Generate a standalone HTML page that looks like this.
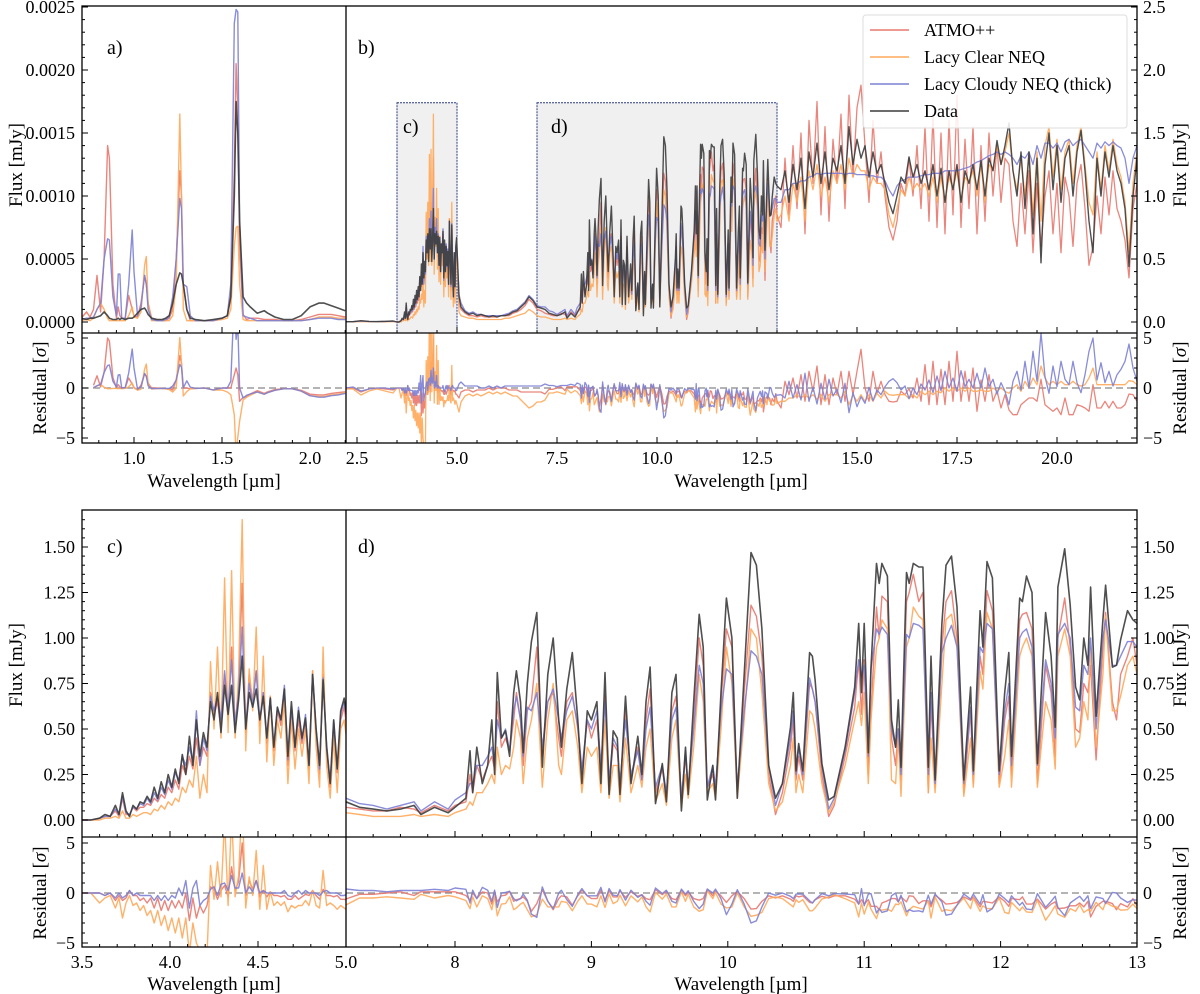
<!DOCTYPE html>
<html><head><meta charset="utf-8"><style>
body{margin:0;background:#fff;}
svg{display:block;font-family:"Liberation Serif",serif;}
</style></head><body>
<svg id="fig" width="1200" height="994" viewBox="0 0 1200 994" xmlns="http://www.w3.org/2000/svg">
<defs>
<clipPath id="cA"><rect x="82" y="6" width="264" height="327"/></clipPath>
<clipPath id="cAr"><rect x="82" y="333" width="264" height="110"/></clipPath>
<clipPath id="cB"><rect x="346" y="6" width="791" height="327"/></clipPath>
<clipPath id="cBr"><rect x="346" y="333" width="791" height="110"/></clipPath>
<clipPath id="cC"><rect x="82" y="510" width="264" height="327"/></clipPath>
<clipPath id="cCr"><rect x="82" y="837" width="264" height="110"/></clipPath>
<clipPath id="cD"><rect x="346" y="510" width="791" height="327"/></clipPath>
<clipPath id="cDr"><rect x="346" y="837" width="791" height="110"/></clipPath>
</defs>
<g id="boxes"></g>
<g id="series"></g>
<g id="axes"></g>
</svg>
<script>
// ---- NIR data (flux in units of 1e-4 mJy) ----
const nirWl=[0.68,0.70,0.73,0.75,0.77,0.79,0.81,0.83,0.85,0.86,0.88,0.90,0.91,0.92,0.93,0.95,0.97,0.99,1.00,1.02,1.04,1.06,1.07,1.08,1.10,1.13,1.16,1.18,1.20,1.22,1.24,1.26,1.27,1.28,1.30,1.32,1.35,1.40,1.45,1.50,1.53,1.55,1.57,1.58,1.59,1.60,1.62,1.64,1.66,1.70,1.74,1.76,1.80,1.85,1.90,1.95,2.00,2.05,2.08,2.12,2.16,2.20];
const nirAtmo=[0.2,0.3,0.8,0.4,1.0,3.7,0.8,5.0,14.0,13.0,3.0,0.3,1.2,0.5,0.3,0.3,2.1,1.0,0.5,0.4,1.5,3.7,3.0,1.5,0.3,0.2,0.1,0.1,0.3,1.0,5.0,12.0,10.0,3.0,1.0,0.1,0.1,0.1,0.1,0.3,0.5,2.0,12.0,20.5,17.0,6.0,0.6,0.2,0.3,0.3,0.2,0.2,0.2,0.1,0.1,0.2,0.4,0.6,0.6,0.6,0.5,0.4];
const nirCloudy=[0.1,0.2,0.3,0.3,0.4,1.0,1.5,5.0,6.6,6.5,2.0,0.5,3.8,3.8,0.3,0.3,3.0,7.3,4.0,0.5,1.2,3.7,3.0,1.0,0.2,0.1,0.1,0.2,0.4,2.0,5.0,9.8,9.0,3.0,2.8,0.5,0.1,0.1,0.1,0.3,0.5,3.0,23.7,24.8,24.6,8.0,0.5,0.4,0.3,0.1,0.1,0.1,0.1,0.1,0.1,0.1,0.2,0.3,0.3,0.3,0.2,0.2];
const nirClear=[0.1,0.1,0.2,0.1,0.3,1.0,1.5,1.0,0.3,0.1,0.1,0.1,0.1,0.1,0.1,0.1,0.5,1.2,0.4,0.3,0.8,4.5,5.2,1.5,0.1,0.1,0.1,0.1,0.1,0.5,3.0,16.5,10.0,1.0,0.1,0.1,0.1,0.1,0.1,0.2,0.3,1.0,6.0,7.5,7.6,3.0,0.2,0.1,0.1,0.1,0.1,0.1,0.1,0.1,0.1,0.1,0.2,0.4,0.4,0.4,0.3,0.3];
const nirData=[0.3,0.3,0.2,0.3,0.3,0.4,0.5,0.8,0.5,0.3,0.2,0.2,0.3,0.2,0.3,0.2,0.3,0.3,0.4,0.7,1.0,1.1,0.9,0.6,0.3,0.2,0.2,0.3,0.5,1.5,3.0,3.9,3.8,3.0,1.0,0.3,0.2,0.1,0.2,0.3,0.5,2.0,10.0,17.5,15.0,8.0,2.0,1.5,1.2,0.7,0.9,0.7,0.4,0.2,0.2,0.5,1.2,1.5,1.5,1.3,1.1,0.9];
const nirErrEdges=[0.95,1.15,1.40,1.53,1.70,2.25];
const nirErrVals=[2.7,1.8,2.5,0.5,1.5,1.3];

// ---- MIR data (mJy) ----
const wlA=[2.2,2.4,2.6,2.8,3.0,3.2,3.4];
const dataA=[.002,.002,.01,.005,.003,.005,.008];
const atmoA=[.002,.002,.006,.004,.003,.004,.006];
const cloudyA=[.002,.003,.007,.004,.003,.005,.007];
const clearA=[.001,.001,.003,.002,.002,.002,.003];

const wlC=[3.50,3.55,3.60,3.63,3.66,3.69,3.71,3.73,3.75,3.77,3.79,3.81,3.83,3.85,3.87,3.89,3.91,3.93,3.95,3.97,3.99,4.01,4.03,4.05,4.07,4.09,4.11,4.13,4.15,4.17,4.19,4.21,4.23,4.25,4.27,4.29,4.31,4.33,4.35,4.37,4.39,4.41,4.43,4.45,4.47,4.49,4.51,4.53,4.55,4.57,4.59,4.61,4.63,4.65,4.67,4.69,4.71,4.73,4.75,4.77,4.79,4.81,4.83,4.85,4.87,4.89,4.91,4.93,4.95,4.97,4.99];
const dataC=[0,0,.01,.03,.02,.08,.03,.15,.05,.02,.08,.06,.10,.09,.13,.10,.18,.12,.21,.15,.25,.18,.28,.20,.36,.25,.46,.30,.55,.35,.48,.40,.65,.55,.70,.48,.74,.58,.74,.48,.66,.90,.50,.70,.62,.72,.55,.68,.45,.67,.40,.62,.55,.72,.35,.65,.40,.60,.45,.56,.30,.80,.50,.30,.77,.40,.20,.55,.28,.60,.67];
const atmoC=[0,0,.01,.02,.02,.05,.02,.12,.03,.03,.07,.05,.07,.07,.09,.08,.12,.10,.14,.12,.18,.15,.22,.17,.30,.25,.35,.28,.45,.30,.40,.35,.70,.58,.65,.50,.80,.55,.95,.50,.75,1.30,.48,.80,.65,.82,.52,.70,.42,.68,.38,.60,.52,.70,.30,.60,.38,.55,.42,.55,.28,.82,.48,.25,.80,.38,.18,.52,.26,.55,.62];
const cloudyC=[0,0,.01,.02,.02,.06,.03,.13,.04,.03,.07,.06,.09,.08,.12,.09,.15,.11,.18,.14,.22,.17,.26,.22,.35,.30,.40,.32,.60,.30,.45,.38,.68,.60,.68,.55,.82,.60,.88,.52,.70,1.06,.50,.75,.63,.82,.55,.70,.45,.67,.40,.62,.55,.74,.33,.62,.40,.62,.44,.58,.30,.80,.50,.28,.78,.42,.20,.55,.28,.58,.65];
const clearC=[0,0,0,.01,.01,.02,.01,.05,.01,.01,.03,.02,.03,.04,.04,.03,.06,.05,.08,.06,.10,.08,.12,.10,.18,.15,.22,.18,.35,.12,.25,.15,.87,.50,.95,.45,1.33,.48,1.37,.45,.80,1.65,.38,.83,.60,1.06,.42,.90,.32,.68,.30,.55,.45,.65,.20,.55,.28,.50,.35,.50,.20,.82,.40,.18,.95,.30,.12,.45,.15,.50,.55];

const wlB=[5.05,5.10,5.20,5.30,5.40,5.50,5.60,5.70,5.80,5.90,6.00,6.10,6.20,6.30,6.40,6.50,6.60,6.70,6.80,6.90,7.00,7.10];
const dataB=[.20,.12,.08,.06,.07,.05,.06,.05,.04,.05,.04,.05,.05,.06,.08,.09,.12,.15,.20,.17,.12,.11];
const atmoB=[.15,.10,.07,.05,.05,.04,.05,.04,.04,.04,.04,.05,.05,.05,.07,.08,.10,.13,.18,.15,.10,.09];
const cloudyB=[.22,.15,.09,.07,.08,.06,.06,.05,.05,.05,.05,.05,.06,.07,.09,.10,.13,.16,.21,.18,.13,.12];
const clearB=[.08,.05,.04,.03,.03,.02,.02,.02,.02,.02,.02,.02,.03,.03,.04,.05,.06,.07,.10,.08,.05,.04];

const wlD=[7.20,7.30,7.40,7.50,7.60,7.70,7.75,7.85,7.95,8.00,8.08,8.11,8.13,8.16,8.20,8.24,8.27,8.29,8.31,8.34,8.37,8.40,8.43,8.45,8.48,8.50,8.53,8.56,8.60,8.64,8.68,8.72,8.76,8.78,8.82,8.86,8.90,8.93,8.97,9.00,9.04,9.07,9.10,9.13,9.16,9.19,9.21,9.25,9.29,9.34,9.37,9.40,9.43,9.47,9.52,9.55,9.59,9.62,9.66,9.69,9.71,9.75,9.79,9.82,9.85,9.89,9.91,9.95,9.99,10.03,10.07,10.12,10.17,10.21,10.25,10.30,10.35,10.40,10.46,10.48,10.50,10.52,10.55,10.60,10.62,10.64,10.69,10.74,10.78,10.86,10.93,10.96,10.98,11.00,11.03,11.05,11.09,11.11,11.13,11.17,11.20,11.23,11.25,11.27,11.31,11.33,11.36,11.40,11.43,11.47,11.49,11.52,11.57,11.60,11.64,11.68,11.73,11.78,11.80,11.85,11.87,11.90,11.94,11.99,12.03,12.06,12.08,12.14,12.16,12.19,12.23,12.27,12.33,12.37,12.40,12.42,12.47,12.51,12.55,12.58,12.61,12.64,12.66,12.70,12.75,12.77,12.82,12.85,12.88,12.93,12.97,13.00];
const dataD=[.10,.07,.06,.05,.06,.08,.03,.07,.04,.07,.12,.38,.15,.40,.20,.30,.55,.25,.81,.45,.49,.35,.70,.82,.65,.37,.75,.98,1.14,.29,.80,1.00,.55,.40,.72,.92,.55,.20,.60,.55,.65,.20,.81,.14,.49,.45,.14,.68,.20,.46,.25,.65,.84,.09,.31,.10,.70,.80,.05,.40,.14,.65,1.13,.95,.11,.30,.11,.70,1.22,1.00,.12,.80,1.47,1.40,1.05,.30,.12,.20,.51,.70,.27,.42,.27,.92,.90,.77,.31,.11,.13,.40,.73,1.08,.70,1.08,.37,.84,1.41,1.30,1.41,1.34,.55,.40,.66,.29,1.36,1.30,1.41,1.39,1.39,.29,.90,.22,1.08,1.40,1.45,1.17,.22,.73,.27,1.15,.95,1.42,1.33,.27,.70,.92,.35,1.22,1.20,1.34,1.25,.31,1.14,.90,.51,1.28,1.49,1.18,.73,.66,1.00,.85,1.28,.57,1.10,1.29,.84,.85,.99,1.15,1.10,1.08];
const atmoD=[.07,.06,.05,.05,.07,.06,.04,.08,.05,.08,.10,.25,.15,.30,.22,.30,.35,.28,.65,.40,.45,.38,.55,.70,.55,.30,.60,.65,.95,.35,.65,.70,.45,.35,.65,.70,.50,.25,.55,.45,.55,.25,.68,.18,.42,.38,.18,.60,.22,.40,.22,.55,.72,.15,.28,.13,.60,.68,.10,.35,.16,.55,1.00,.85,.18,.25,.15,.65,1.05,.95,.15,.70,1.18,1.12,.90,.25,.03,.15,.40,.55,.22,.35,.22,.75,.72,.65,.25,.02,.08,.35,.62,.88,.58,.88,.25,.60,1.17,1.00,1.23,1.20,.45,.30,.50,.22,1.20,1.25,1.35,1.20,1.25,.15,.65,.18,.95,1.20,1.26,1.00,.15,.60,.20,.90,.80,1.26,1.15,.20,.55,.68,.25,1.10,1.13,1.14,1.05,.20,.85,.70,.35,1.00,1.22,.95,.50,.48,.75,.70,.85,.33,.95,1.14,.65,.55,.80,.90,1.00,.85];
const cloudyD=[.12,.09,.08,.06,.08,.10,.05,.10,.06,.11,.15,.20,.20,.30,.30,.35,.40,.30,.55,.45,.50,.38,.60,.68,.55,.35,.62,.60,.70,.40,.65,.72,.55,.45,.60,.68,.52,.28,.55,.50,.60,.30,.65,.22,.45,.40,.20,.55,.25,.38,.22,.50,.62,.18,.30,.15,.55,.62,.12,.38,.18,.50,.85,.75,.18,.30,.18,.60,.83,.80,.18,.60,.93,.90,.80,.30,.08,.20,.45,.60,.25,.40,.25,.78,.72,.65,.30,.06,.12,.38,.70,.88,.78,.85,.35,.83,1.05,1.02,1.06,1.02,.50,.40,.50,.25,1.02,1.00,1.08,1.07,1.05,.25,.70,.20,.92,1.00,1.07,.95,.20,.62,.25,.95,.92,1.08,1.05,.25,.60,.75,.30,1.00,1.03,1.05,.95,.30,.88,.75,.45,1.02,1.08,1.00,.62,.60,.85,.80,1.00,.50,1.00,1.10,.85,.85,.90,.98,.98,.95];
const clearD=[.04,.03,.02,.02,.02,.03,.02,.03,.02,.04,.06,.10,.08,.15,.15,.20,.25,.20,.40,.25,.30,.28,.40,.55,.45,.20,.45,.55,.75,.18,.55,.75,.30,.25,.55,.60,.40,.15,.40,.35,.40,.15,.55,.12,.30,.30,.10,.45,.15,.30,.18,.40,.50,.10,.20,.08,.45,.55,.07,.25,.12,.40,.80,.65,.15,.20,.12,.50,.95,.75,.12,.55,1.05,1.00,.70,.20,.05,.10,.30,.45,.15,.25,.15,.60,.58,.50,.20,.04,.10,.30,.55,.65,.52,.70,.20,.55,.95,1.00,1.10,1.05,.22,.20,.45,.13,.95,1.00,1.17,1.12,1.10,.15,.45,.15,.75,1.10,1.13,.95,.13,.45,.18,.82,.72,1.14,1.05,.18,.35,.55,.18,.90,.95,1.00,.90,.18,.65,.55,.28,.90,1.05,.90,.40,.45,.65,.55,.95,.40,.80,1.12,.60,.60,.68,.85,.90,.80];

const wlE=[13.1,13.2,13.3,13.4,13.5,13.6,13.7,13.8,13.9,14.0,14.1,14.2,14.3,14.4,14.5,14.6,14.7,14.8,14.9,15.0,15.1,15.2,15.3,15.4,15.5,15.6,15.7,15.8,15.9,16.0,16.1,16.2,16.3,16.4,16.5,16.6,16.7,16.8,16.9,17.0,17.1,17.2,17.3,17.4,17.5,17.6,17.7,17.8,17.9,18.0,18.1,18.2,18.3,18.4,18.5,18.6,18.7,18.8,18.9,19.0,19.1,19.2,19.3,19.4,19.5,19.6,19.7,19.8,19.9,20.0,20.1,20.2,20.3,20.4,20.5,20.6,20.7,20.8,20.9,21.0,21.1,21.2,21.3,21.4,21.5,21.6,21.7,21.8,21.9,22.0];
const dataE=[1.05,1.20,.95,1.25,1.05,1.30,.90,1.35,1.15,1.42,1.10,1.35,1.05,1.30,1.20,1.40,1.10,1.55,1.25,1.45,1.30,1.40,1.15,1.35,1.18,1.25,1.10,.95,.86,1.00,1.15,1.10,1.31,1.15,1.25,1.10,1.20,1.05,1.25,1.00,1.22,.95,1.20,1.05,1.25,.95,1.20,1.10,1.25,1.05,1.28,1.00,1.30,1.20,1.44,1.25,1.40,1.58,1.20,1.00,1.35,.90,1.35,.70,1.30,.47,1.25,1.50,1.05,1.40,.95,1.30,1.40,1.00,1.35,1.52,1.20,.80,.55,1.30,1.00,1.35,1.15,1.40,1.20,1.10,.90,.44,1.00,1.30];
const atmoE=[.75,1.30,.85,1.40,.90,1.50,.70,1.60,1.10,1.75,.85,1.55,.80,1.45,1.10,1.65,.90,1.80,1.15,1.70,1.88,1.40,.95,1.60,1.10,1.35,1.00,.75,.65,.80,1.10,1.00,1.30,1.00,1.40,.90,1.55,.80,1.65,.75,1.50,.70,1.60,.85,1.80,.75,1.45,.90,1.55,.70,1.40,.80,1.50,1.00,1.40,.95,1.30,1.25,.80,.60,1.10,.70,1.20,.55,1.10,.60,1.00,1.20,.70,1.10,.55,1.15,1.00,.60,1.10,1.25,.90,.45,.60,1.00,.70,1.15,.85,1.20,.90,.80,.65,.35,.90,1.10];
const cloudyE=[.95,1.05,1.05,1.10,1.10,1.12,1.12,1.15,1.16,1.18,1.17,1.18,1.18,1.18,1.18,1.18,1.17,1.18,1.18,1.17,1.17,1.17,1.16,1.16,1.15,1.15,1.12,1.05,1.00,1.08,1.12,1.13,1.15,1.15,1.15,1.16,1.17,1.17,1.18,1.18,1.18,1.20,1.20,1.20,1.20,1.21,1.22,1.23,1.25,1.27,1.28,1.30,1.32,1.33,1.35,1.33,1.35,1.33,1.30,1.25,1.32,1.30,1.35,1.25,1.40,1.30,1.42,1.42,1.38,1.42,1.35,1.43,1.45,1.40,1.43,1.45,1.40,1.35,1.30,1.42,1.38,1.43,1.40,1.43,1.40,1.38,1.30,1.10,1.30,1.40];
const clearE=[.85,1.00,.80,1.10,.95,1.15,.80,1.20,1.05,1.25,1.00,1.15,.95,1.20,1.10,1.25,1.05,1.30,1.15,1.25,1.20,1.20,1.05,1.15,1.10,1.10,1.05,.85,.75,.90,1.05,1.00,1.15,1.05,1.10,1.05,1.10,1.00,1.15,.95,1.15,.95,1.15,1.05,1.20,.95,1.15,1.10,1.20,1.00,1.25,.95,1.25,1.20,1.40,1.25,1.35,1.50,1.20,1.05,1.30,1.00,1.35,.85,1.35,.80,1.40,1.55,1.15,1.45,1.05,1.35,1.45,1.10,1.40,1.55,1.25,.95,.85,1.35,1.05,1.40,1.20,1.45,1.25,1.15,.95,.55,1.10,1.35];

const mirErrEdges=[3.6,4.22,5.0,7.2,8.1,13.05,22.5];
const mirErrVals=[0.01,0.04,0.08,0.05,0.08,0.18,0.15];

const mirWl=[...wlA,...wlC,...wlB,...wlD,...wlE];
const mirData=[...dataA,...dataC,...dataB,...dataD,...dataE];
const mirAtmo=[...atmoA,...atmoC,...atmoB,...atmoD,...atmoE];
const mirCloudy=[...cloudyA,...cloudyC,...cloudyB,...cloudyD,...cloudyE];
const mirClear=[...clearA,...clearC,...clearB,...clearD,...clearE];

const legendLabels=["ATMO++","Lacy Clear NEQ","Lacy Cloudy NEQ (thick)","Data"];
const seriesColors={atmo:"#e8786e",clear:"#ffa95a",cloudy:"#7c80d4",data:"#3c3c3c"};

const NS="http://www.w3.org/2000/svg";
function mk(tag,attrs,parent){const e=document.createElementNS(NS,tag);for(const k in attrs)e.setAttribute(k,attrs[k]);parent.appendChild(e);return e;}

const xA=w=>134+(w-1)*176;
const xB=w=>357+(w-2.5)*40;
const xC=w=>82+(w-3.5)*176;
const xD=w=>455+(w-8)*136.4;
const yTop=v=>322-v*126;
const yNir=v=>322-v*12.6;
const yTopR=r=>388-r*10;
const yBot=v=>820-v*182;
const yBotR=r=>893-r*10;

function errAt(w,edges,vals){for(let i=0;i<edges.length;i++)if(w<=edges[i])return vals[i];return vals[vals.length-1];}

const boxes=document.getElementById('boxes');
const series=document.getElementById('series');
const axes=document.getElementById('axes');

[[3.5,5.0,'c-region-box'],[7.0,13.0,'d-region-box']].forEach(b=>{
  const r=mk('rect',{x:xB(b[0]),y:yTop(1.74),width:xB(b[1])-xB(b[0]),height:333-yTop(1.74),fill:'#f0f0f0',stroke:'#2a3a80','stroke-width':1,'stroke-dasharray':'2,1'},boxes);
  
  
});

function drawLine(wl,vals,xf,yf,clip,color,name,width){
  let pts=[];
  for(let i=0;i<Math.min(wl.length,vals.length);i++)pts.push(xf(wl[i]).toFixed(1)+','+yf(vals[i]).toFixed(1));
  const p=mk('polyline',{points:pts.join(' '),fill:'none',stroke:color,'stroke-width':width||1.4,'stroke-linejoin':'round','clip-path':'url(#'+clip+')',opacity:0.9},series);
  
  
}
function resid(model,data,wl,edges,vals){return model.map((m,i)=>(m-data[i])/errAt(wl[i],edges,vals));}

const models=[['atmo',nirAtmo,mirAtmo],['clear',nirClear,mirClear],['cloudy',nirCloudy,mirCloudy]];
[[82,1137,388],[82,1137,893]].forEach((l,i)=>{
  const d=mk('line',{x1:l[0],x2:l[1],y1:l[2],y2:l[2],stroke:'#888','stroke-width':1.2,'stroke-dasharray':'7,4'},series);
  
  
});
models.forEach(m=>{
  const c=seriesColors[m[0]];
  drawLine(nirWl,m[1],xA,yNir,'cA',c,m[0]+'-line-a');
  drawLine(mirWl,m[2],xB,yTop,'cB',c,m[0]+'-line-b',1.3);
  drawLine(mirWl,m[2],xC,yBot,'cC',c,m[0]+'-line-c');
  drawLine(mirWl,m[2],xD,yBot,'cD',c,m[0]+'-line-d');
  const rn=resid(m[1],nirData,nirWl,nirErrEdges,nirErrVals);
  const rm=resid(m[2],mirData,mirWl,mirErrEdges,mirErrVals);
  drawLine(nirWl.filter(w=>w>=0.77),rn.slice(nirWl.findIndex(w=>w>=0.77)),xA,yTopR,'cAr',c,m[0]+'-residual-a');
  drawLine(mirWl,rm,xB,yTopR,'cBr',c,m[0]+'-residual-b',1.3);
  drawLine(mirWl,rm,xC,yBotR,'cCr',c,m[0]+'-residual-c');
  drawLine(mirWl,rm,xD,yBotR,'cDr',c,m[0]+'-residual-d');
});
const dc=seriesColors.data;
drawLine(nirWl,nirData,xA,yNir,'cA',dc,'data-line-a',1.6);
drawLine(mirWl,mirData,xB,yTop,'cB',dc,'data-line-b',1.4);
drawLine(mirWl,mirData,xC,yBot,'cC',dc,'data-line-c',1.6);
drawLine(mirWl,mirData,xD,yBot,'cD',dc,'data-line-d',1.6);

[[6,443,333],[510,947,837]].forEach((f,i)=>{
  const r=mk('rect',{x:82,y:f[0],width:1055,height:f[1]-f[0],fill:'none',stroke:'#000','stroke-width':1.3},axes);
  
  
  mk('line',{x1:82,x2:1137,y1:f[2],y2:f[2],stroke:'#000','stroke-width':1.3},axes);
  mk('line',{x1:346,x2:346,y1:f[0],y2:f[1],stroke:'#000','stroke-width':1.3},axes);
});

function txt(s,x,y,attrs,name){
  const t=mk('text',Object.assign({x:x,y:y,'font-size':18,fill:'#000'},attrs||{}),axes);
  t.textContent=s;
  
  
  return t;
}
function tk(x1,y1,x2,y2){mk('line',{x1:x1,y1:y1,x2:x2,y2:y2,stroke:'#000','stroke-width':1},axes);}

function xTicks(xf,lo,hi,major,minor,yBottoms,labelY,fmt){
  for(let v=Math.ceil(lo/minor-1e-6)*minor;v<=hi+1e-6;v+=minor){
    const x=xf(v);if(x<82-0.5||x>1137.5)continue;
    const isMaj=Math.abs(v/major-Math.round(v/major))<1e-6;
    yBottoms.forEach(yb=>tk(x,yb,x,yb-(isMaj?6:3)));
    if(isMaj)txt(fmt(v),x,labelY,{'text-anchor':'middle'},'x-tick-label');
  }
}
xTicks(xA,0.8,2.2,0.5,0.1,[333,443],464,v=>v.toFixed(1));
xTicks(xB,2.5,21.9,2.5,0.5,[333,443],464,v=>v.toFixed(1));
xTicks(xC,3.5,5.0,0.5,0.1,[837,947],968,v=>v.toFixed(1));
xTicks(xD,7.4,13.0,1,0.2,[837,947],968,v=>v.toFixed(0));

function yTicks(yf,lo,hi,major,minor,side,fmt){
  const x=side==='L'?82:1137, d=side==='L'?1:-1;
  for(let i=Math.round(lo/minor);i<=Math.round(hi/minor);i++){
    const v=i*minor,y=yf(v);
    const isMaj=Math.abs(v/major-Math.round(v/major))<1e-6;
    tk(x,y,x+d*(isMaj?6:3),y);
    if(isMaj){
      const s=fmt(v);
      if(side==='L')txt(s,75,y+6,{'text-anchor':'end'},'y-tick-label');
      else txt(s,1143,y+6,{'text-anchor':'start'},'y-tick-label');
    }
  }
}
const fmtR=v=>v<0?'\u2212'+Math.abs(v):String(v);
yTicks(v=>yNir(v*1e4),0,0.0025,0.0005,0.0001,'L',v=>v.toFixed(4));
yTicks(yTopR,-5,5,5,1,'L',fmtR);
yTicks(yTop,0,2.5,0.5,0.1,'R',v=>v.toFixed(1));
yTicks(yTopR,-5,5,5,1,'R',fmtR);
yTicks(yBot,0,1.65,0.25,0.05,'L',v=>v.toFixed(2));
yTicks(yBotR,-5,5,5,1,'L',fmtR);
yTicks(yBot,0,1.65,0.25,0.05,'R',v=>v.toFixed(2));
yTicks(yBotR,-5,5,5,1,'R',fmtR);

function vt(s,x,y,name){return txt(s,x,y,{'text-anchor':'middle','font-size':19,transform:'rotate(-90 '+x+' '+y+')'},name);}
vt('Flux [mJy]',22,165,'y-axis-title-flux-left');
vt('Flux [mJy]',1186,165,'y-axis-title-flux-right');
vt('Flux [mJy]',22,665,'y-axis-title-flux-left-bottom');
vt('Flux [mJy]',1186,665,'y-axis-title-flux-right-bottom');
const rl=[[46,388,'y-axis-title-residual-left'],[1186,388,'y-axis-title-residual-right'],[46,893,'y-axis-title-residual-left-bottom'],[1186,893,'y-axis-title-residual-right-bottom']];
rl.forEach(r=>{const t=vt('',r[0],r[1],r[2]);t.innerHTML='Residual [<tspan font-style="italic">σ</tspan>]';});
txt('Wavelength [µm]',214,487,{'text-anchor':'middle','font-size':19},'x-axis-title-a');
txt('Wavelength [µm]',741,487,{'text-anchor':'middle','font-size':19},'x-axis-title-b');
txt('Wavelength [µm]',214,990,{'text-anchor':'middle','font-size':19},'x-axis-title-c');
txt('Wavelength [µm]',741,990,{'text-anchor':'middle','font-size':19},'x-axis-title-d');

txt('a)',107,54,{'font-size':20},'panel-label-a');
txt('b)',358,54,{'font-size':20},'panel-label-b');
txt('c)',403,133,{'font-size':20},'box-label-c');
txt('d)',551,133,{'font-size':20},'box-label-d');
txt('c)',107,553,{'font-size':20},'panel-label-c');
txt('d)',358,553,{'font-size':20},'panel-label-d');

const lg=mk('g',{},axes);


mk('rect',{x:863,y:15,width:264,height:113,rx:3,fill:'#fff','fill-opacity':0.85,stroke:'#ddd'},lg);
const lc=[seriesColors.atmo,seriesColors.clear,seriesColors.cloudy,seriesColors.data];
legendLabels.forEach((s,i)=>{
  const y=30+i*27;
  const l=mk('line',{x1:870,x2:909,y1:y,y2:y,stroke:lc[i],'stroke-width':1.6},lg);
  
  
  const t=mk('text',{x:924,y:y+6,'font-size':18},lg);
  t.textContent=s;
  
  
});
</script>
</body></html>
